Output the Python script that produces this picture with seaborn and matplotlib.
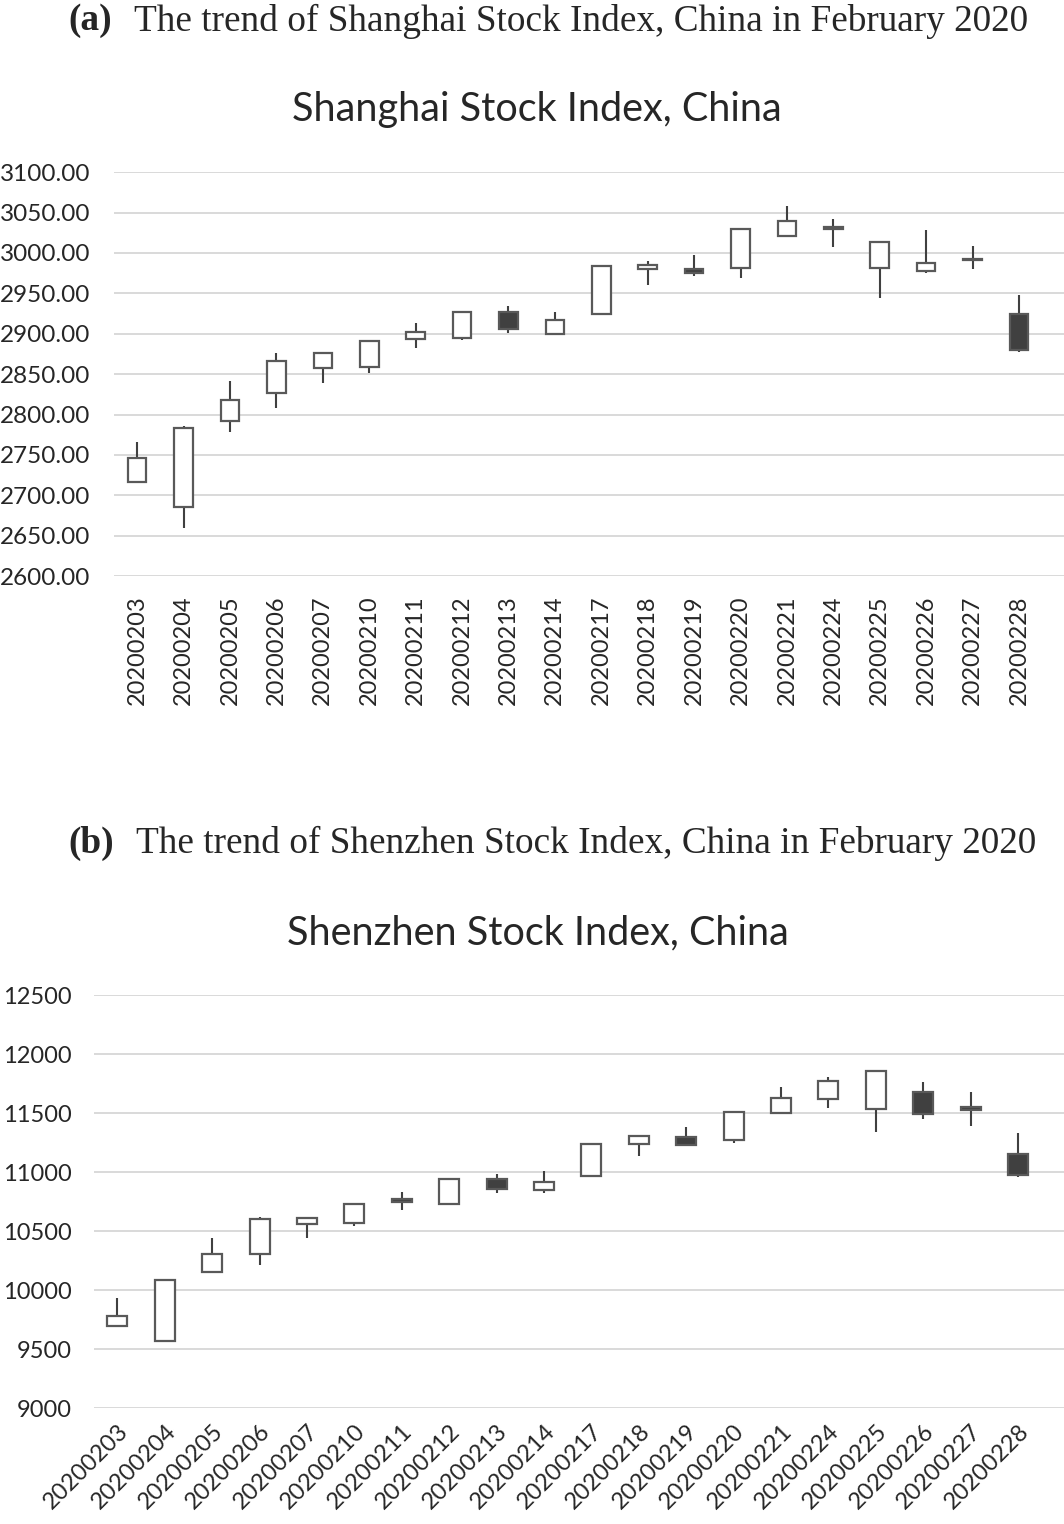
import matplotlib
matplotlib.use("Agg")
import matplotlib.pyplot as plt
import seaborn as sns
import numpy as np

# trading days, February 2020
dates = ["20200203", "20200204", "20200205", "20200206", "20200207",
         "20200210", "20200211", "20200212", "20200213", "20200214",
         "20200217", "20200218", "20200219", "20200220", "20200221",
         "20200224", "20200225", "20200226", "20200227", "20200228"]

# Shanghai Stock Index
sh_open = [2716.7, 2685.3, 2791.6, 2826.3, 2858.0, 2859.3, 2893.5, 2894.4, 2927.4, 2899.7,
           2924.1, 2980.7, 2980.3, 2981.1, 3021.1, 3032.0, 2981.5, 2978.2, 2992.5, 2924.5]
sh_high = [2766.6, 2785.9, 2842.0, 2875.8, 2876.5, 2891.0, 2913.0, 2926.9, 2934.8, 2926.6,
           2984.0, 2990.2, 2997.6, 3030.2, 3058.7, 3041.8, 3015.4, 3028.6, 3009.2, 2947.6]
sh_low = [2716.7, 2659.3, 2778.4, 2807.7, 2838.6, 2851.0, 2882.0, 2892.3, 2901.4, 2899.7,
          2924.1, 2960.4, 2971.6, 2968.7, 3020.3, 3007.1, 2943.9, 2974.9, 2980.7, 2878.0]
sh_close = [2746.6, 2783.3, 2818.1, 2866.5, 2876.0, 2890.5, 2901.7, 2926.9, 2906.1, 2917.0,
            2983.6, 2985.0, 2975.4, 3030.2, 3039.7, 3030.0, 3013.1, 2987.9, 2991.3, 2880.3]

# Shenzhen Stock Index
sz_open = [9700, 9573, 10152, 10307, 10564, 10572, 10773, 10727, 10939, 10849,
           10967, 11241, 11300, 11269, 11498, 11617, 11532, 11676, 11555, 11151]
sz_high = [9931, 10087, 10440, 10623, 10623, 10727, 10835, 10939, 10984, 11013,
           11238, 11309, 11385, 11509, 11724, 11803, 11860, 11766, 11681, 11334]
sz_low = [9700, 9573, 10143, 10214, 10440, 10547, 10679, 10727, 10821, 10821,
          10967, 11140, 11227, 11247, 11489, 11546, 11343, 11450, 11394, 10956]
sz_close = [9782, 10087, 10307, 10603, 10612, 10727, 10748, 10939, 10854, 10917,
            11238, 11309, 11227, 11509, 11628, 11775, 11860, 11489, 11530, 10976]

sns.set_style("white")
plt.rcParams['font.family'] = ['Lato', 'DejaVu Sans']

EDGE = "#595959"
DARK = "#404040"


def draw_candles(ax, o, h, l, c, width):
    o, h, l, c = map(np.asarray, (o, h, l, c))
    x = np.arange(len(o))
    up = c >= o
    ax.vlines(x, l, h, color=DARK, lw=1.5, zorder=2)
    ax.bar(x, np.abs(c - o), bottom=np.minimum(o, c), width=width,
           color=np.where(up, "white", DARK), edgecolor=EDGE, linewidth=1.6, zorder=3)
    ax.set_xticks(x)
    ax.set_xticklabels(dates)
    ax.set_xlim(-0.5, 19.97)
    ax.yaxis.grid(True, color="#d9d9d9", lw=1.4)
    ax.xaxis.grid(False)
    sns.despine(ax=ax, left=True, bottom=True)


fig = plt.figure(figsize=(10.64, 15.24), dpi=100)

# (a) Shanghai
ax1 = fig.add_axes([0.1071, 0.622, 0.8929, 0.265])
draw_candles(ax1, sh_open, sh_high, sh_low, sh_close, 0.40)
ax1.set_ylim(2600, 3100)
ax1.set_yticks(np.arange(2600, 3101, 50))
ax1.set_yticklabels([f"{v:.2f}" for v in np.arange(2600, 3101, 50)])
ax1.tick_params(axis="y", length=0, pad=17, labelsize=17.5)
ax1.tick_params(axis="x", length=0, pad=14, labelsize=17, labelrotation=90)

# (b) Shenzhen
ax2 = fig.add_axes([0.0881, 0.0759, 0.9119, 0.2712])
draw_candles(ax2, sz_open, sz_high, sz_low, sz_close, 0.42)
ax2.set_ylim(9000, 12500)
ax2.set_yticks(np.arange(9000, 12501, 500))
ax2.tick_params(axis="y", length=0, pad=16, labelsize=17)
ax2.tick_params(axis="x", length=0, pad=9, labelsize=17)
plt.setp(ax2.get_xticklabels(), rotation=45, ha="right", va="top", rotation_mode="anchor")

# headings and chart titles
serif = ["Liberation Serif", "DejaVu Serif"]
fig.text(68 / 1064, 1 - 21 / 1524, "(a)", family=serif, weight="bold", fontsize=26.8, va="center")
fig.text(134 / 1064, 1 - 21 / 1524, "The trend of Shanghai Stock Index, China in February 2020",
         family=serif, fontsize=26.8, va="center")
fig.text(537 / 1064, 1 - 109 / 1524, "Shanghai Stock Index, China", fontsize=28.5, ha="center", va="center")

fig.text(68 / 1064, 1 - 843 / 1524, "(b)", family=serif, weight="bold", fontsize=26.8, va="center")
fig.text(136 / 1064, 1 - 843 / 1524, "The trend of Shenzhen Stock Index, China in February 2020",
         family=serif, fontsize=26.8, va="center")
fig.text(538 / 1064, 1 - 933 / 1524, "Shenzhen Stock Index, China", fontsize=28.5, ha="center", va="center")

fig.savefig("out.png", dpi=100)
